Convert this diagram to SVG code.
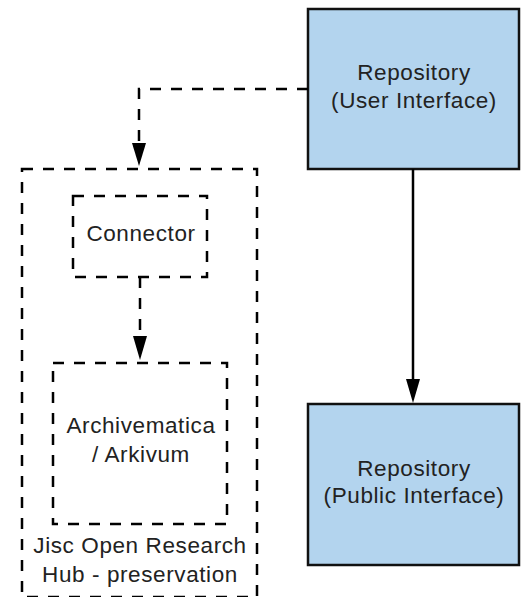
<svg xmlns="http://www.w3.org/2000/svg" width="529" height="597" viewBox="0 0 529 597">
<defs>
<style>
.t{font-family:"Liberation Sans",Arial,sans-serif;font-size:22.5px;letter-spacing:0.6px;fill:#222;text-anchor:middle}
.blue{fill:#b3d4ee;stroke:#111;stroke-width:2.5}
.dash{fill:none;stroke:#000;stroke-width:2.5;stroke-dasharray:11 10}
.solid{fill:none;stroke:#000;stroke-width:2.5}
</style>
</defs>
<rect width="529" height="597" fill="#fff"/>
<g id="jisc-hub">
<rect class="dash" x="22" y="169" width="235" height="428"/>
<text class="t" x="140" y="553">Jisc Open Research</text>
<text class="t" x="140" y="582">Hub - preservation</text>
</g>
<g id="connector">
<rect class="dash" x="73" y="196" width="134" height="81"/>
<text class="t" x="141" y="241">Connector</text>
</g>
<g id="archivematica">
<rect class="dash" x="53" y="363" width="174" height="161"/>
<text class="t" x="141" y="433">Archivematica</text>
<text class="t" x="141" y="462">/ Arkivum</text>
</g>
<g id="repo-user">
<rect class="blue" x="308" y="9" width="211" height="160"/>
<text class="t" x="414" y="80">Repository</text>
<text class="t" x="414" y="108">(User Interface)</text>
</g>
<g id="repo-public">
<rect class="blue" x="308" y="404" width="211" height="161"/>
<text class="t" x="414" y="476">Repository</text>
<text class="t" x="414" y="503">(Public Interface)</text>
</g>
<g id="connectors">
<path class="dash" d="M308,89 H139 V143"/>
<path d="M132,143 L146,143 L139,166 Z" fill="#000"/>
<path class="dash" d="M140,277 V336"/>
<path d="M133,336 L147,336 L140,360 Z" fill="#000"/>
<path class="solid" d="M413,169 V380"/>
<path d="M406,379 L420,379 L413,403 Z" fill="#000"/>
</g>
</svg>
